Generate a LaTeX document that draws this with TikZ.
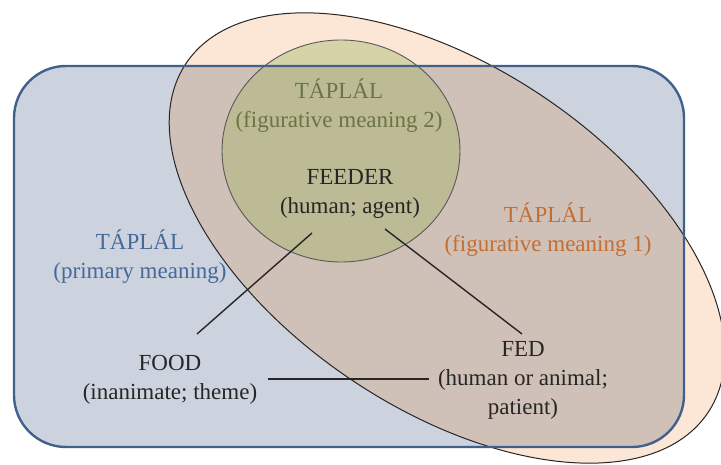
\documentclass[tikz,border=0pt]{standalone}
\usepackage{fontspec}
\setmainfont{Liberation Serif}
\definecolor{rectfill}{HTML}{CCD3DE}
\definecolor{rectline}{HTML}{41618A}
\definecolor{ellfill}{HTML}{FCE6D6}
\definecolor{bothfill}{HTML}{D0C1B8}
\definecolor{circin}{HTML}{BCBB95}
\definecolor{circout}{HTML}{D6D3A9}
\definecolor{greentxt}{HTML}{6B7543}
\definecolor{orangetxt}{HTML}{C46E33}
\definecolor{bluetxt}{HTML}{46699A}
\definecolor{darktxt}{HTML}{262626}
\tikzset{
  lbl/.style={align=center, font=\fontsize{23}{29}\selectfont, inner sep=0pt},
  conn/.style={draw=darktxt, line width=1.4pt},
}
\begin{document}
\begin{tikzpicture}[x=1pt,y=-1pt]
\useasboundingbox (0,0) rectangle (721,465);
\def\ellpath{[rotate around={-33.8:(447,238)}] (447,238) ellipse [x radius=314, y radius=171]}
% fills
\fill[ellfill, rotate around={-33.8:(447,238)}] (447,238) ellipse [x radius=314, y radius=171];
\fill[rectfill, rounded corners=52pt] (14,66) rectangle (684,447);
\begin{scope}
  \clip[rounded corners=52pt] (14,66) rectangle (684,447);
  \fill[bothfill, rotate around={-33.8:(447,238)}] (447,238) ellipse [x radius=314, y radius=171];
\end{scope}
\fill[circout] (341,151) ellipse [x radius=119, y radius=111];
\begin{scope}
  \clip[rounded corners=52pt] (14,66) rectangle (684,447);
  \fill[circin] (341,151) ellipse [x radius=119, y radius=111];
\end{scope}
% borders
\draw[black!85, line width=1pt, rotate around={-33.8:(447,238)}] (447,238) ellipse [x radius=314, y radius=171];
\draw[black!65, line width=0.9pt] (341,151) ellipse [x radius=119, y radius=111];
\draw[rectline, line width=2.4pt, rounded corners=52pt] (14,66) rectangle (684,447);
% labels
\node[lbl, text=greentxt] (fig2) at (339,106) {TÁPLÁL\\(figurative meaning 2)};
\node[lbl, text=darktxt] (feeder) at (350,194) {FEEDER\\(human; agent)};
\node[lbl, text=orangetxt] (fig1) at (548,230) {TÁPLÁL\\(figurative meaning 1)};
\node[lbl, text=bluetxt] (prim) at (140,257) {TÁPLÁL\\(primary meaning)};
\node[lbl, text=darktxt] (food) at (170,380) {FOOD\\(inanimate; theme)};
\node[lbl, text=darktxt] (fed) at (523,380) {FED\\(human or animal;\\patient)};
% connector ends
\coordinate (feedL) at (312,233);
\coordinate (feedR) at (385,229);
\coordinate (foodT) at (197,334);
\coordinate (fedT) at (522,334);
\coordinate (foodR) at (268,379);
\coordinate (fedL) at (429,379);
\draw[conn] (feedL) -- (foodT);
\draw[conn] (feedR) -- (fedT);
\draw[conn] (foodR) -- (fedL);
\end{tikzpicture}
\end{document}
